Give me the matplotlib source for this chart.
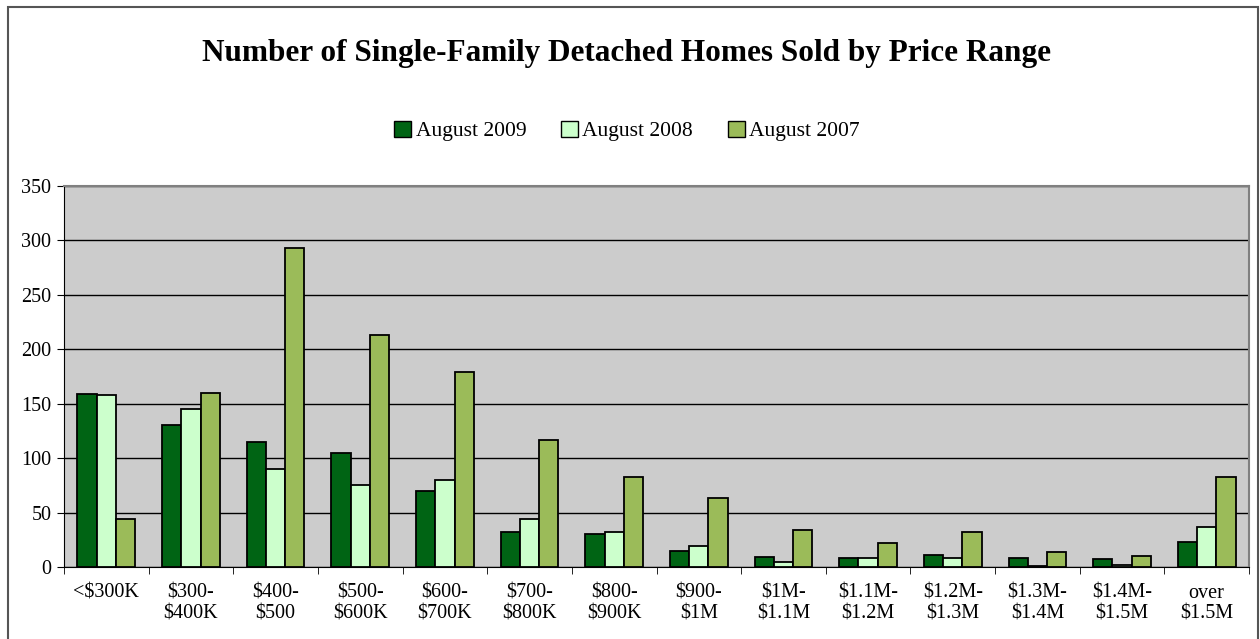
import numpy as np, matplotlib; matplotlib.use("Agg")
import matplotlib.pyplot as plt
from matplotlib.patches import Rectangle, Patch

plt.rcParams['font.family'] = ['Liberation Serif', 'DejaVu Serif']

categories = ["<$300K", "$300-\n$400K", "$400-\n$500", "$500-\n$600K", "$600-\n$700K",
              "$700-\n$800K", "$800-\n$900K", "$900-\n$1M", "$1M-\n$1.1M", "$1.1M-\n$1.2M",
              "$1.2M-\n$1.3M", "$1.3M-\n$1.4M", "$1.4M-\n$1.5M", "over\n$1.5M"]
aug2009 = [159, 130, 115, 105, 70, 32, 30, 15, 9, 8, 11, 8, 7, 23]
aug2008 = [158, 145, 90, 75, 80, 44, 32, 19, 5, 8, 8, 1, 2, 37]
aug2007 = [44, 160, 293, 213, 179, 117, 83, 63, 34, 22, 32, 14, 10, 83]
series = [("August 2009", aug2009, "#006414"), ("August 2008", aug2008, "#CCFFCC"),
          ("August 2007", aug2007, "#9BBB59")]

fig = plt.figure(figsize=(12.6, 6.39), dpi=100)
ax = fig.add_axes([64/1260, 1-567/639, (1249-64)/1260, (567-186)/639])
ax.set_facecolor("#CCCCCC")

x = np.arange(len(categories))
w = 1/4.4
for i, (name, vals, col) in enumerate(series):
    ax.bar(x + (i-1)*w, vals, w, color=col, edgecolor="black", linewidth=1.3, zorder=3)

ax.set_xlim(-0.5, len(categories)-0.5)
ax.set_ylim(0, 350)
ax.set_yticks(range(0, 351, 50))
ax.yaxis.grid(True, color="black", linewidth=1, zorder=1)
ax.set_axisbelow(True)
ax.set_xticks(x)
ax.set_xticklabels(categories, fontsize=14.5, linespacing=1.15)
ax.set_xticks(np.arange(-0.5, len(categories)), minor=True)
ax.tick_params(axis="x", which="major", length=0, pad=12)
ax.tick_params(axis="x", which="minor", length=5, direction="out", color="black")
ax.tick_params(axis="y", length=5, direction="out", labelsize=14.5, pad=4)
for s in ["top", "right"]:
    ax.spines[s].set_color("#808080")
    ax.spines[s].set_linewidth(1.5)
ax.spines["left"].set_color("black")
ax.spines["bottom"].set_color("black")

fig.text(0.4976, 1-54/639, "Number of Single-Family Detached Homes Sold by Price Range",
         ha="center", va="center", fontsize=22.5, fontweight="bold")
handles = [Patch(facecolor=c, edgecolor="black", label=n) for n, _, c in series]
fig.legend(handles=handles, loc="center", bbox_to_anchor=(0.4976, 1-131/639), ncol=3,
           frameon=False, fontsize=15.5, handlelength=0.8, handleheight=0.8,
           handletextpad=0.2, columnspacing=1.6)

fig.patches.append(Rectangle((8/1260, -0.01), (1258-8)/1260, 1-7/639+0.01,
                             transform=fig.transFigure, fill=False, edgecolor="#555555", linewidth=1.5))
fig.savefig("out.png", dpi=100)
